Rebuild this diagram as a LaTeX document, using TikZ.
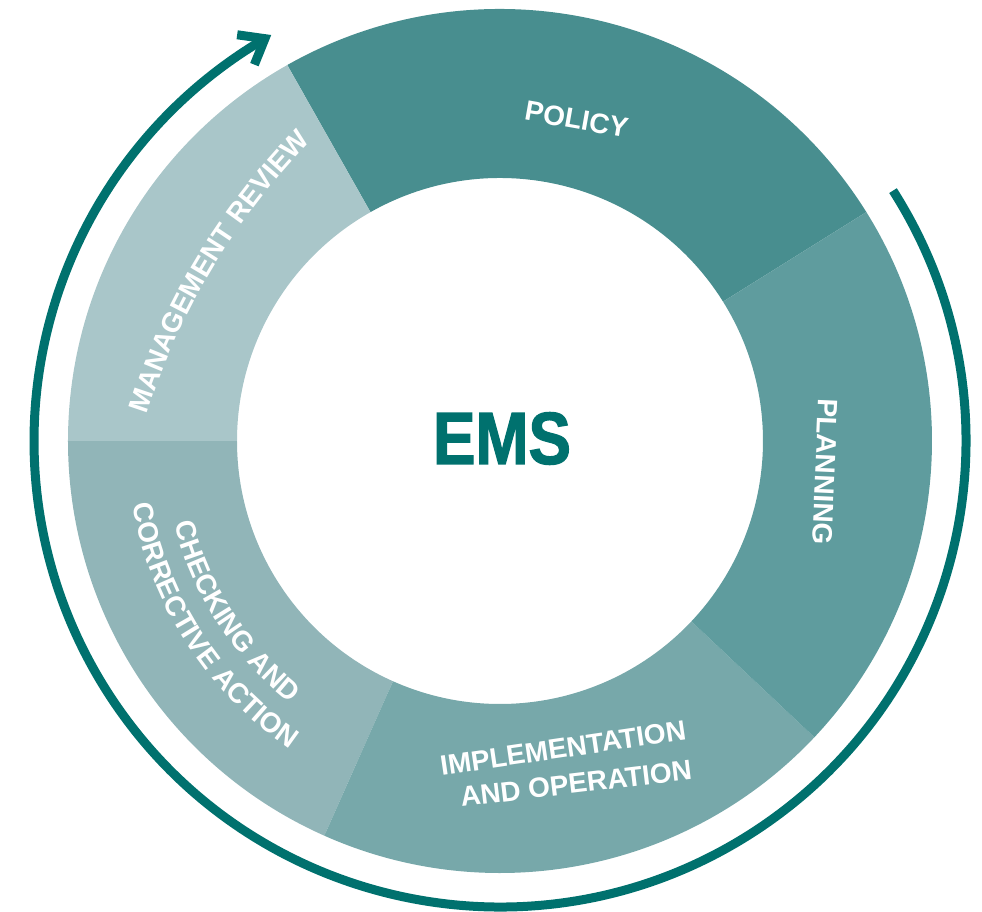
\documentclass[tikz,border=0pt]{standalone}
\usepackage{fontspec}
\setmainfont{Liberation Sans}
\newfontfamily\emsfont[FakeStretch=0.86, FakeBold=1.6]{Liberation Sans}
\usetikzlibrary{decorations.text}
\definecolor{cpolicy}{HTML}{488E8F}
\definecolor{cplanning}{HTML}{5F9C9E}
\definecolor{cimpl}{HTML}{77A8AA}
\definecolor{ccheck}{HTML}{91B5B8}
\definecolor{creview}{HTML}{A9C6C9}
\definecolor{cteal}{HTML}{00716E}
\newcommand\lblfont{\fontsize{28}{30}\selectfont\bfseries}
\begin{document}
\begin{tikzpicture}[x=1pt,y=1pt,
  lbl/.style={font=\lblfont, text=white, inner sep=0pt},
  curvedlbl/.style={decorate, decoration={text along path, text align=center, text color=white, text={|\lblfont|#1}}},
  cycleline/.style={draw=cteal, line width=9pt}]
\useasboundingbox (-500,-470) rectangle (482,441);

% ring segments
\fill[cpolicy] (32:432) arc[start angle=32,end angle=119.5,radius=432] -- (119.5:263) arc[start angle=119.5,end angle=32,radius=263] -- cycle;
\fill[creview] (119.5:432) arc[start angle=119.5,end angle=180,radius=432] -- (180:263) arc[start angle=180,end angle=119.5,radius=263] -- cycle;
\fill[ccheck] (180:432) arc[start angle=180,end angle=246,radius=432] -- (246:263) arc[start angle=246,end angle=180,radius=263] -- cycle;
\fill[cimpl] (246:432) arc[start angle=246,end angle=316.7,radius=432] -- (316.7:263) arc[start angle=316.7,end angle=246,radius=263] -- cycle;
\fill[cplanning] (316.7:432) arc[start angle=316.7,end angle=392,radius=432] -- (392:263) arc[start angle=392,end angle=316.7,radius=263] -- cycle;

% cycle arrow
\coordinate (tail) at (32.5:466);
\coordinate (head) at (120.3:466);
\draw[cycleline] (tail) arc[start angle=32.5, end angle=-239.7, radius=466];
\draw[cycleline, line join=miter] (head) ++(172:28) -- (head) -- ++(248:28);

% centre
\node[font=\emsfont\bfseries\fontsize{74}{74}\selectfont, text=cteal, inner sep=0pt] (ems) at (2,2.5) {EMS};

% straight labels
\node[lbl, rotate=-10] (policy) at (76.5,321.5) {POLICY};
\node[lbl, rotate=-92.5] (planning) at (325,-30.5) {PLANNING};
\node[lbl, rotate=8.4] (impl1) at (63,-307) {IMPLEMENTATION};
\node[lbl, rotate=6.8] (impl2) at (76,-342.5) {AND OPERATION};

% curved labels
\path[curvedlbl=MANAGEMENT REVIEW, shift={(149:-355)}] (189:690) arc[start angle=189, end angle=109, radius=690];
\path[curvedlbl=CHECKING AND] (162.8:336) arc[start angle=162.8, end angle=262.8, radius=336];
\path[curvedlbl=CORRECTIVE ACTION] (162.8:373) arc[start angle=162.8, end angle=262.8, radius=373];
\end{tikzpicture}
\end{document}
